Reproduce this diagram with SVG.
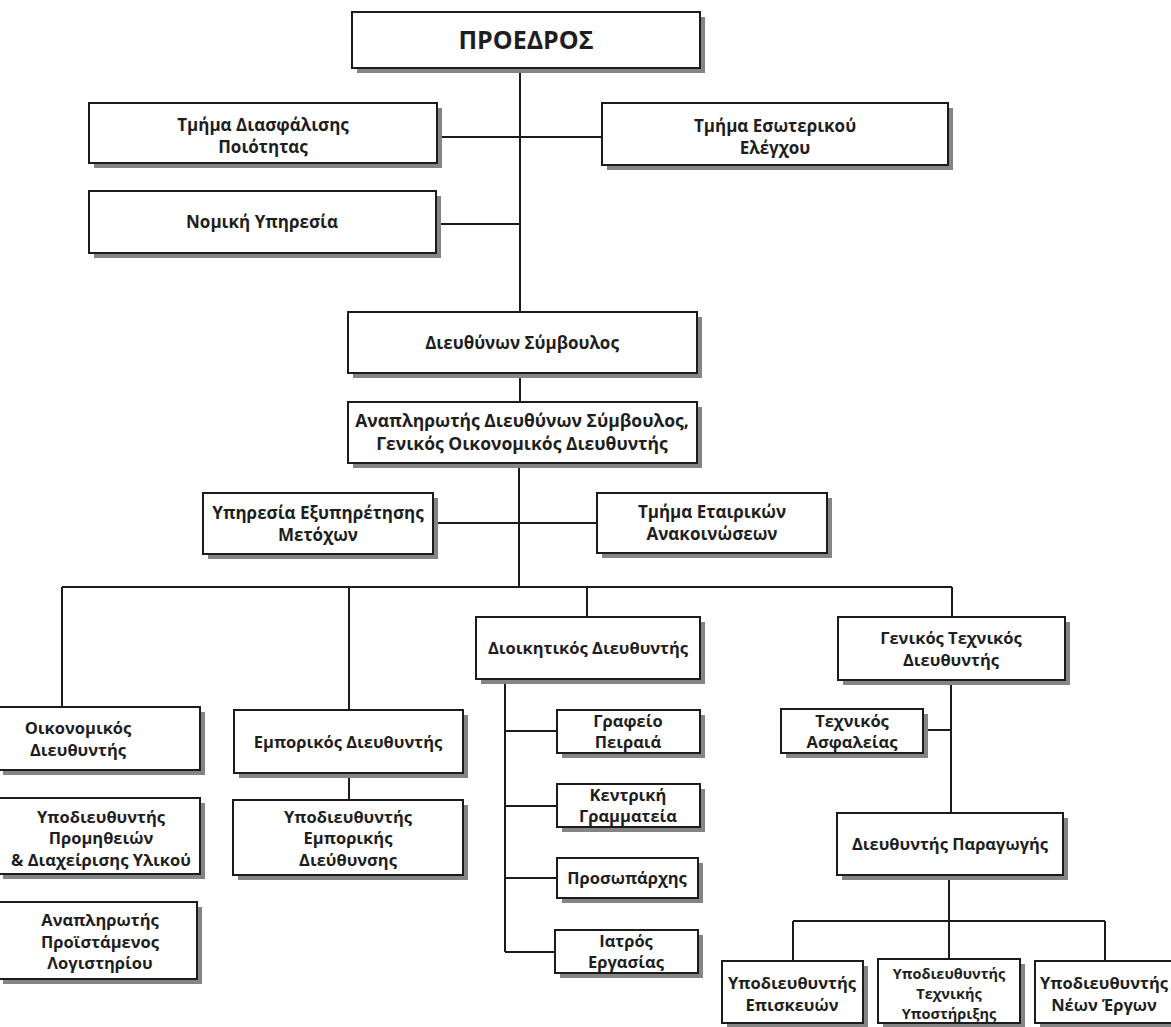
<svg xmlns="http://www.w3.org/2000/svg" width="1171" height="1027" viewBox="0 0 1171 1027">
<style>
.bg{fill:#ffffff}
.sh{fill:#858585}
.box{fill:#ffffff;stroke:#1c1c1c;stroke-width:2}
.t{font-family:"Open Sans","Noto Sans",sans-serif;font-size:16.5px;font-weight:700;fill:#1e1e1e;text-anchor:middle}
.big{font-size:25px}
.up{font-size:17px}
.dep{font-size:17.5px}
.sm{font-size:14.5px}
.ln{stroke:#1c1c1c;stroke-width:2;fill:none}
</style>
<rect class="bg" x="0" y="0" width="1171" height="1027"/>
<g id="connectors">
<path class="ln" d="M520 68V312M437 137H602M436 224H520M520 373V402M519 463V587M433 523H597M62 587H952M62 587V707M349 587V710M587 587V617M952 587V617M349 773V800M505 679V952M505 731H557M505 806H557M505 878H557M505 952H555M951 680V813M923 730H951M949 875V921M793 921H1105M793 921V961M949 921V959M1105 921V961"/>
</g>
<g id="n-proedros"><rect class="sh" x="357" y="17" width="348" height="56"/><rect class="box" x="352" y="12" width="348" height="56"/><text class="t big" x="526" y="49">ΠΡΟΕΔΡΟΣ</text></g>
<g id="n-diasfalisi"><rect class="sh" x="94" y="108" width="348" height="60"/><rect class="box" x="89" y="103" width="348" height="60"/><text class="t up" x="263" y="131">Τμήμα Διασφάλισης</text><text class="t up" x="263" y="153">Ποιότητας</text></g>
<g id="n-esoterikos"><rect class="sh" x="607" y="108" width="346" height="62"/><rect class="box" x="602" y="103" width="346" height="62"/><text class="t up" x="775" y="132">Τμήμα Εσωτερικού</text><text class="t up" x="775" y="154">Ελέγχου</text></g>
<g id="n-nomiki"><rect class="sh" x="94" y="196" width="347" height="62"/><rect class="box" x="89" y="191" width="347" height="62"/><text class="t up" x="262" y="228">Νομική Υπηρεσία</text></g>
<g id="n-ceo"><rect class="sh" x="353" y="317" width="349" height="61"/><rect class="box" x="348" y="312" width="349" height="61"/><text class="t up" x="522" y="349">Διευθύνων Σύμβουλος</text></g>
<g id="n-deputy"><rect class="sh" x="353" y="407" width="349" height="61"/><rect class="box" x="348" y="402" width="349" height="61"/><text class="t dep" x="522" y="427">Αναπληρωτής Διευθύνων Σύμβουλος,</text><text class="t dep" x="522" y="450">Γενικός Οικονομικός Διευθυντής</text></g>
<g id="n-metoxoi"><rect class="sh" x="208" y="498" width="230" height="61"/><rect class="box" x="203" y="493" width="230" height="61"/><text class="t up" x="318" y="519">Υπηρεσία Εξυπηρέτησης</text><text class="t up" x="318" y="541">Μετόχων</text></g>
<g id="n-anakoinoseis"><rect class="sh" x="602" y="498" width="230" height="60"/><rect class="box" x="597" y="493" width="230" height="60"/><text class="t up" x="712" y="518">Τμήμα Εταιρικών</text><text class="t up" x="712" y="540">Ανακοινώσεων</text></g>
<g id="n-oikonomikos"><rect class="sh" x="3" y="712" width="202" height="63"/><rect class="box" x="-2" y="707" width="202" height="63"/><text class="t" x="78" y="734">Οικονομικός</text><text class="t" x="78" y="756">Διευθυντής</text></g>
<g id="n-promitheies"><rect class="sh" x="3" y="803" width="202" height="76"/><rect class="box" x="-2" y="798" width="202" height="76"/><text class="t" x="101" y="823">Υποδιευθυντής</text><text class="t" x="101" y="844">Προμηθειών</text><text class="t" x="101" y="866">&amp; Διαχείρισης Υλικού</text></g>
<g id="n-logistirio"><rect class="sh" x="3" y="907" width="199" height="77"/><rect class="box" x="-2" y="902" width="199" height="77"/><text class="t" x="100" y="926">Αναπληρωτής</text><text class="t" x="100" y="948">Προϊστάμενος</text><text class="t" x="100" y="969">Λογιστηρίου</text></g>
<g id="n-emporikos"><rect class="sh" x="239" y="715" width="229" height="63"/><rect class="box" x="234" y="710" width="229" height="63"/><text class="t" x="348" y="748">Εμπορικός Διευθυντής</text></g>
<g id="n-ypo-emporikis"><rect class="sh" x="238" y="805" width="230" height="75"/><rect class="box" x="233" y="800" width="230" height="75"/><text class="t" x="348" y="823">Υποδιευθυντής</text><text class="t" x="348" y="844">Εμπορικής</text><text class="t" x="348" y="866">Διεύθυνσης</text></g>
<g id="n-dioikitikos"><rect class="sh" x="481" y="622" width="224" height="62"/><rect class="box" x="476" y="617" width="224" height="62"/><text class="t" x="588" y="654">Διοικητικός Διευθυντής</text></g>
<g id="n-peiraias"><rect class="sh" x="562" y="715" width="143" height="43"/><rect class="box" x="557" y="710" width="143" height="43"/><text class="t" x="628" y="727">Γραφείο</text><text class="t" x="628" y="748">Πειραιά</text></g>
<g id="n-grammateia"><rect class="sh" x="562" y="789" width="143" height="43"/><rect class="box" x="557" y="784" width="143" height="43"/><text class="t" x="628" y="801">Κεντρική</text><text class="t" x="628" y="822">Γραμματεία</text></g>
<g id="n-prosoparxis"><rect class="sh" x="562" y="863" width="141" height="40"/><rect class="box" x="557" y="858" width="141" height="40"/><text class="t" x="627" y="884">Προσωπάρχης</text></g>
<g id="n-iatros"><rect class="sh" x="560" y="935" width="143" height="43"/><rect class="box" x="555" y="930" width="143" height="43"/><text class="t" x="626" y="947">Ιατρός</text><text class="t" x="626" y="968">Εργασίας</text></g>
<g id="n-texnikos"><rect class="sh" x="843" y="622" width="227" height="63"/><rect class="box" x="838" y="617" width="227" height="63"/><text class="t" x="951" y="644">Γενικός Τεχνικός</text><text class="t" x="951" y="666">Διευθυντής</text></g>
<g id="n-asfaleias"><rect class="sh" x="786" y="714" width="142" height="44"/><rect class="box" x="781" y="709" width="142" height="44"/><text class="t" x="852" y="727">Τεχνικός</text><text class="t" x="852" y="748">Ασφαλείας</text></g>
<g id="n-paragogi"><rect class="sh" x="842" y="818" width="226" height="62"/><rect class="box" x="837" y="813" width="226" height="62"/><text class="t" x="950" y="850">Διευθυντής Παραγωγής</text></g>
<g id="n-episkeues"><rect class="sh" x="727" y="966" width="141" height="62"/><rect class="box" x="722" y="961" width="141" height="62"/><text class="t" x="792" y="989">Υποδιευθυντής</text><text class="t" x="792" y="1011">Επισκευών</text></g>
<g id="n-ypostirixi"><rect class="sh" x="883" y="964" width="142" height="64"/><rect class="box" x="878" y="959" width="142" height="64"/><text class="t sm" x="949" y="979">Υποδιευθυντής</text><text class="t sm" x="949" y="999">Τεχνικής</text><text class="t sm" x="949" y="1019">Υποστήριξης</text></g>
<g id="n-nea-erga"><rect class="sh" x="1040" y="966" width="140" height="62"/><rect class="box" x="1035" y="961" width="140" height="62"/><text class="t" x="1104" y="989">Υποδιευθυντής</text><text class="t" x="1104" y="1011">Νέων Έργων</text></g>
</svg>
